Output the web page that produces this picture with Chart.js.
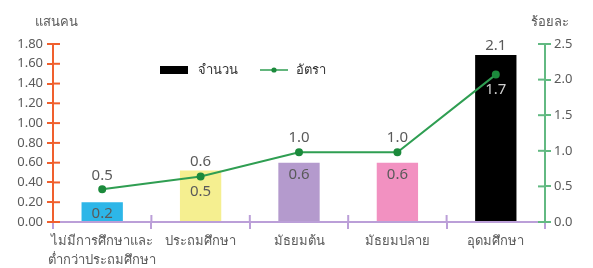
<!DOCTYPE html>
<html>
<head>
<meta charset="utf-8">
<script src="https://cdn.jsdelivr.net/npm/chart.js@4/dist/chart.umd.min.js"></script>
<style>
  html, body { margin: 0; padding: 0; background: #fff; }
  #wrap { width: 593px; height: 268px; position: relative; }
</style>
</head>
<body>
<div id="wrap"><canvas id="eduChart"></canvas></div>
<script>
// data
const categories = [['ไม่มีการศึกษาและ', 'ต่ำกว่าประถมศึกษา'], 'ประถมศึกษา', 'มัธยมต้น', 'มัธยมปลาย', 'อุดมศึกษา'];
const amounts = [0.2, 0.52, 0.6, 0.6, 1.69];   // แสนคน
const rates = [0.46, 0.64, 0.98, 0.98, 2.07];  // ร้อยละ
const leftTicks = [0, 0.2, 0.4, 0.6, 0.8, 1.0, 1.2, 1.4, 1.6, 1.8];
const rightTicks = [0, 0.5, 1.0, 1.5, 2.0, 2.5];
const seriesNames = ['จำนวน', 'อัตรา'];
const leftTitle = 'แสนคน';
const rightTitle = 'ร้อยละ';

const barColors = ['#2db6e8', '#f5ef90', '#b49acd', '#f291c1', '#000000'];
const leftColor = '#f0602e';
const rightColor = '#62b982';
const xColor = '#bb9fd8';
const lineColor = '#2f9e52';
const pointColor = '#1c8a3c';
const textColor = '#5a5a5a';
const fontFamily = '"Noto Sans", "DejaVu Sans", sans-serif';

// value labels over bars and points
const valueLabels = {
  id: 'valueLabels',
  afterDatasetsDraw(chart) {
    const ctx = chart.ctx;
    const bars = chart.getDatasetMeta(0).data;
    const points = chart.getDatasetMeta(1).data;
    ctx.save();
    ctx.font = '15px ' + fontFamily;
    ctx.textAlign = 'center';
    ctx.textBaseline = 'middle';
    bars.forEach((bar, i) => {
      const pt = points[i];
      ctx.fillStyle = i === bars.length - 1 ? '#cfcfcf' : textColor;
      ctx.fillText(amounts[i].toFixed(1), bar.x, Math.max(bar.y + 12, pt.y + 15));
      ctx.fillStyle = textColor;
      ctx.fillText(rates[i].toFixed(1), pt.x, Math.min(pt.y - 14, bar.y - 9));
    });
    ctx.restore();
  }
};

// ticks crossing the axes, axis titles, legend inside the plot
const axisExtras = {
  id: 'axisExtras',
  afterDraw(chart) {
    const { ctx, scales, chartArea } = chart;
    ctx.save();
    ctx.lineWidth = 2;
    ctx.strokeStyle = leftColor;
    scales.y.ticks.forEach((t, i) => {
      const y = scales.y.getPixelForTick(i);
      ctx.beginPath(); ctx.moveTo(chartArea.left, y); ctx.lineTo(chartArea.left + 7, y); ctx.stroke();
    });
    ctx.strokeStyle = rightColor;
    scales.y1.ticks.forEach((t, i) => {
      const y = scales.y1.getPixelForTick(i);
      ctx.beginPath(); ctx.moveTo(chartArea.right - 7, y); ctx.lineTo(chartArea.right, y); ctx.stroke();
    });
    ctx.strokeStyle = xColor;
    const w = (chartArea.right - chartArea.left) / categories.length;
    for (let k = 1; k < categories.length; k++) {
      const x = chartArea.left + k * w;
      ctx.beginPath(); ctx.moveTo(x, chartArea.bottom - 7); ctx.lineTo(x, chartArea.bottom); ctx.stroke();
    }

    ctx.fillStyle = textColor;
    ctx.font = '13px ' + fontFamily;
    ctx.textAlign = 'center';
    ctx.textBaseline = 'middle';
    ctx.fillText(leftTitle, scales.y.right + 3, 22);
    ctx.fillText(rightTitle, scales.y1.left + 5, 22);

    // legend
    let x = chartArea.left + 107;
    const y = chartArea.top + 26;
    ctx.textAlign = 'left';
    ctx.fillStyle = '#000';
    ctx.fillRect(x, y - 4, 28, 8);
    x += 38;
    ctx.fillStyle = '#333';
    ctx.fillText(seriesNames[0], x, y);
    x += ctx.measureText(seriesNames[0]).width + 22;
    ctx.strokeStyle = lineColor;
    ctx.lineWidth = 1.5;
    ctx.beginPath(); ctx.moveTo(x, y); ctx.lineTo(x + 28, y); ctx.stroke();
    ctx.fillStyle = pointColor;
    ctx.beginPath(); ctx.arc(x + 14, y, 2.6, 0, Math.PI * 2); ctx.fill();
    x += 36;
    ctx.fillStyle = '#333';
    ctx.fillText(seriesNames[1], x, y);
    ctx.restore();
  }
};

const ctx = document.getElementById('eduChart').getContext('2d');
const eduChart = new Chart(ctx, {
  data: {
    labels: categories,
    datasets: [{
      type: 'bar',
      label: seriesNames[0],
      data: amounts,
      backgroundColor: barColors,
      yAxisID: 'y',
      order: 2,
      categoryPercentage: 1,
      barPercentage: 0.42
    }, {
      type: 'line',
      label: seriesNames[1],
      data: rates,
      borderColor: lineColor,
      borderWidth: 2,
      pointBackgroundColor: pointColor,
      pointBorderColor: pointColor,
      pointRadius: 3,
      tension: 0,
      yAxisID: 'y1',
      order: 1
    }]
  },
  options: {
    responsive: true,
    maintainAspectRatio: false,
    animation: false,
    layout: { padding: { top: 44, left: 0, right: 0, bottom: 0 } },
    scales: {
      x: {
        offset: true,
        grid: { offset: true, drawOnChartArea: false, color: xColor, lineWidth: 2, tickLength: 7 },
        border: { color: xColor, width: 2 },
        ticks: { color: textColor, padding: 3, maxRotation: 0, autoSkip: false, font: { family: fontFamily, size: 13, lineHeight: 1.45 } },
        afterFit: s => { s.height = 46; }
      },
      y: {
        position: 'left',
        min: 0, max: 1.8,
        afterBuildTicks: s => { s.ticks = leftTicks.map(v => ({ value: v })); },
        grid: { drawOnChartArea: false, color: leftColor, lineWidth: 2, tickLength: 6 },
        border: { color: leftColor, width: 2 },
        ticks: { color: textColor, padding: 4, font: { family: fontFamily, size: 13 }, callback: v => v.toFixed(2) },
        afterFit: s => { s.width = 53; }
      },
      y1: {
        position: 'right',
        min: 0, max: 2.5,
        afterBuildTicks: s => { s.ticks = rightTicks.map(v => ({ value: v })); },
        grid: { drawOnChartArea: false, color: rightColor, lineWidth: 2, tickLength: 6 },
        border: { color: rightColor, width: 2 },
        ticks: { color: textColor, padding: 3, font: { family: fontFamily, size: 13 }, callback: v => v.toFixed(1) },
        afterFit: s => { s.width = 48; }
      }
    },
    plugins: {
      legend: { display: false },
      tooltip: { enabled: false }
    }
  },
  plugins: [valueLabels, axisExtras]
});
</script>
</body>
</html>
